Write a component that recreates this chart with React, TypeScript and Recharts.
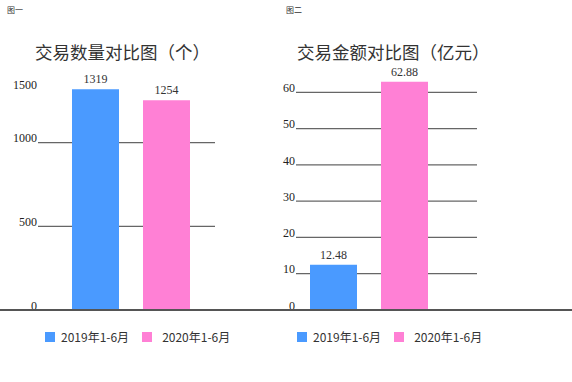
import React from 'react';
import { BarChart, Bar, XAxis, YAxis, CartesianGrid, Legend, LabelList } from 'recharts';

// series names (legend)
const seriesNames = ['2019年1-6月', '2020年1-6月'];
const seriesColors = ['#4A9AFF', '#FF80D5'];

// 图一: transaction count
const countValues = [1319, 1254];
const countTicks = [0, 500, 1000, 1500];
const countGrid = [500, 1000];

// 图二: transaction amount (亿元)
const amountValues = [12.48, 62.88];
const amountTicks = [0, 10, 20, 30, 40, 50, 60];
const amountGrid = [10, 20, 30, 40, 50, 60];

const numFont = '"Liberation Serif", serif';
const cjkFont = '"Noto Sans CJK SC", sans-serif';

const toRow = (values: number[]) => [{ name: 'x', s0: values[0], s1: values[1] }];

// top label of 图一 sits lower in the original, level with the tallest bar
const TickLabel = (props: any) => {
  const { x, y, payload, topValue, topShift } = props;
  const dy = payload.value === topValue ? topShift : 0;
  return (
    <text x={x} y={y - 3 + dy} textAnchor="end" dominantBaseline="middle" fontSize={12} fontFamily={numFont} fill="#222">
      {payload.value}
    </text>
  );
};

const LegendContent = () => (
  <div style={{ display: 'flex', alignItems: 'center', fontFamily: cjkFont, fontSize: 12, color: '#333' }}>
    {seriesNames.map((n, i) => (
      <div key={n} style={{ display: 'flex', alignItems: 'center', marginRight: 13 }}>
        <span style={{ width: 10, height: 10, background: seriesColors[i], display: 'inline-block', marginRight: i === 0 ? 6 : 10 }} />
        <span>{n}</span>
      </div>
    ))}
  </div>
);

interface PanelProps {
  values: number[];
  ticks: number[];
  grid: number[];
  domainMax: number;
  width: number;
  axisWidth: number;
  marginTop: number;
  marginRight: number;
  padLeft: number;
  padRight: number;
  legendLeft: number;
  topShift: number;
}

const Panel: React.FC<PanelProps> = (p) => (
  <BarChart
    width={p.width}
    height={382}
    data={toRow(p.values)}
    margin={{ top: p.marginTop, right: p.marginRight, left: 0, bottom: 72 }}
    barGap={24}
  >
    <CartesianGrid vertical={false} horizontalValues={p.grid} stroke="#666" strokeWidth={1.3} />
    <XAxis dataKey="name" hide padding={{ left: p.padLeft, right: p.padRight }} />
    <YAxis
      width={p.axisWidth}
      domain={[0, p.domainMax]}
      ticks={p.ticks}
      axisLine={false}
      tickLine={false}
      tickSize={0}
      tickMargin={1}
      tick={<TickLabel topValue={p.ticks[p.ticks.length - 1]} topShift={p.topShift} />}
      interval={0}
    />
    <Legend
      layout="horizontal"
      verticalAlign="middle"
      align="center"
      content={<LegendContent />}
      wrapperStyle={{ top: 328, left: p.legendLeft, width: 'auto' }}
    />
    {[0, 1].map((i) => (
      <Bar key={i} dataKey={`s${i}`} name={seriesNames[i]} fill={seriesColors[i]} barSize={47} isAnimationActive={false}>
        <LabelList dataKey={`s${i}`} position="top" offset={6} fontSize={12} fontFamily={numFont} fill="#333" />
      </Bar>
    ))}
  </BarChart>
);

const titleStyle: React.CSSProperties = {
  position: 'absolute',
  top: 39,
  fontFamily: cjkFont,
  fontSize: 17.5,
  color: '#333',
  whiteSpace: 'nowrap',
};

const tagStyle: React.CSSProperties = {
  position: 'absolute',
  top: 4,
  fontFamily: cjkFont,
  fontSize: 8,
  color: '#333',
};

export default function App() {
  return (
    <div style={{ position: 'absolute', left: 0, top: 0, width: 572, height: 382, background: '#fff', overflow: 'hidden' }}>
      <div style={{ ...tagStyle, left: 7 }}>图一</div>
      <div style={{ ...tagStyle, left: 286 }}>图二</div>
      <div style={{ ...titleStyle, left: 35 }}>交易数量对比图（个）</div>
      <div style={{ ...titleStyle, left: 297 }}>交易金额对比图（亿元）</div>

      <div style={{ position: 'absolute', left: 0, top: 0 }}>
        <Panel
          values={countValues}
          ticks={countTicks}
          grid={countGrid}
          domainMax={1500}
          width={290}
          axisWidth={38}
          marginTop={59}
          marginRight={75}
          padLeft={9}
          padRight={0}
          legendLeft={45}
          topShift={30}
        />
      </div>
      <div style={{ position: 'absolute', left: 280, top: 0 }}>
        <Panel
          values={amountValues}
          ticks={amountTicks}
          grid={amountGrid}
          domainMax={70}
          width={292}
          axisWidth={16}
          marginTop={56}
          marginRight={95}
          padLeft={0}
          padRight={35}
          legendLeft={17}
          topShift={0}
        />
      </div>

      <div style={{ position: 'absolute', left: 0, top: 309, width: 572, height: 1.5, background: '#555' }} />
    </div>
  );
}
